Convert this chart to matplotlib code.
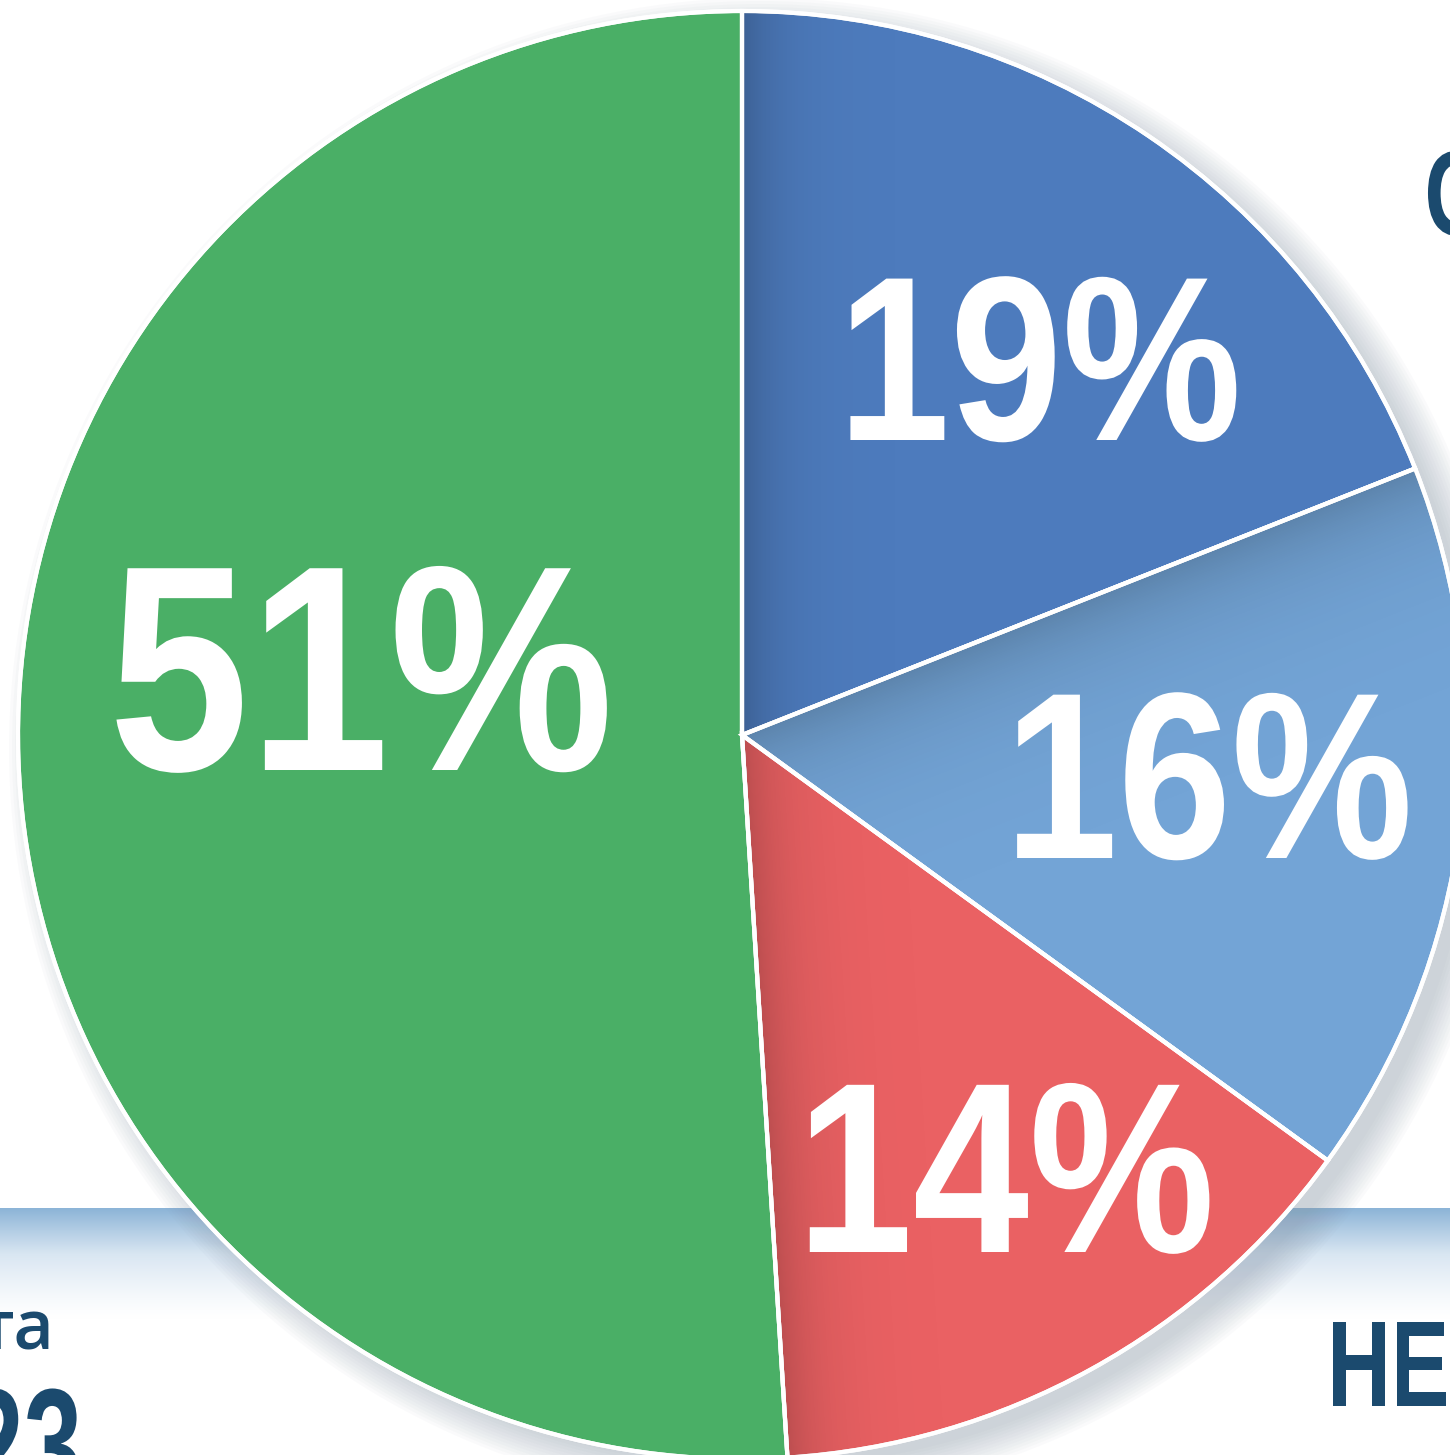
import numpy as np
import matplotlib
matplotlib.use('Agg')
import matplotlib.pyplot as plt
from matplotlib.colors import LinearSegmentedColormap
from matplotlib.patches import Circle
from matplotlib.patheffects import AbstractPathEffect
from matplotlib.transforms import Affine2D

# share of answers, clockwise from 12 o'clock
labels = ['19%', '16%', '14%', '51%']
values = [19, 16, 14, 51]
colors = ['#4d7bbd', '#73a4d6', '#ea6163', '#4aaf66']

# where each percentage sits (pixel x centre, baseline y from top) and its digit height
label_pos = [(1039, 440), (1208, 858), (1005, 1252), (361, 770)]
label_size = [168, 170, 174, 210]

W, H = 1450, 1455
cx, cy, R = 742, 735, 724
navy = '#1b4a6e'


class Squeeze(AbstractPathEffect):
    """Narrow the glyphs horizontally around the left, centre or right of the text."""
    def __init__(self, sx, anchor='center'):
        super().__init__()
        self.sx = sx
        self.anchor = anchor

    def draw_path(self, renderer, gc, tpath, affine, rgbFace=None):
        ext = tpath.transformed(affine).get_extents()
        x0 = {'left': ext.x0, 'right': ext.x1}.get(self.anchor, (ext.x0 + ext.x1) / 2)
        aff = affine + Affine2D().translate(-x0, 0).scale(self.sx, 1).translate(x0, 0)
        renderer.draw_path(gc, tpath, aff, rgbFace)


fig = plt.figure(figsize=(W / 100, H / 100), dpi=100)
ax = fig.add_axes([0, 0, 1, 1])

def fy(y):
    return H - y

# pale blue ribbon running behind the pie
band = LinearSegmentedColormap.from_list('band', ['#ffffff', '#d9e6f2', '#8cb4d7'])
grad = np.linspace(0, 1, 200).reshape(-1, 1) ** 1.3
ax.imshow(grad, cmap=band, aspect='auto', extent=[0, W, fy(1320), fy(1208)],
          origin='lower', zorder=0)

# soft shadow falling to the lower right of the pie
for k in range(12):
    ax.add_patch(Circle((cx + 18, fy(cy) - 14), R - 6 + k * 3, color='#8796a8',
                        alpha=0.04, lw=0, zorder=1))

wedges, _ = ax.pie(values, colors=colors, startangle=90, counterclock=False,
                   center=(cx, fy(cy)), radius=R, frame=True,
                   wedgeprops=dict(edgecolor='white', linewidth=3))
for w in wedges:
    w.set_zorder(2)

# darker fold along one edge of each of the smaller slices
xx, yy = np.meshgrid(np.arange(W) + 0.5, np.arange(H) + 0.5)
phi = np.arctan2(yy - fy(cy), xx - cx)
rr = np.hypot(xx - cx, yy - fy(cy))
folds = [(wedges[0], wedges[0].theta2, 0.22, 38),
         (wedges[1], wedges[1].theta2, 0.20, 55),
         (wedges[2], wedges[2].theta1, 0.20, 40)]
for w, th, a, width in folds:
    d = rr * np.abs(np.sin(phi - np.radians(th)))
    rgba = np.zeros((H, W, 4))
    rgba[..., 3] = a * np.exp(-d / width)
    im = ax.imshow(rgba, extent=[0, W, 0, H], origin='lower', zorder=2.5,
                   interpolation='bilinear')
    im.set_clip_path(w)

# white dividers drawn again above the shading
outlines, _ = ax.pie(values, colors=['none'] * len(values), startangle=90,
                     counterclock=False, center=(cx, fy(cy)), radius=R, frame=True,
                     wedgeprops=dict(edgecolor='white', linewidth=3))
for w in outlines:
    w.set_zorder(2.6)

ax.set_xlim(0, W)
ax.set_ylim(0, H)
ax.set_aspect('equal')
ax.axis('off')

# digit height in px -> font size in pt
for lab, (x, y), s in zip(labels, label_pos, label_size):
    ax.text(x, fy(y), lab, color='white', fontsize=s / 0.716 * 0.72, fontweight='bold',
            family='Liberation Sans', ha='center', va='baseline', zorder=3,
            path_effects=[Squeeze(0.86)])

# pieces of the surrounding headline text, cut by the edges
ax.text(1423, fy(235), 'С', color=navy, fontsize=87, fontweight='bold',
        family='Liberation Sans', ha='left', va='baseline', zorder=3,
        path_effects=[Squeeze(0.72, 'left')])
ax.text(-22, fy(1350), 'та', color=navy, fontsize=50,
        family='Open Sans', fontweight='semibold', ha='left', va='baseline', zorder=3)
ax.text(84, fy(1500), '2023', color=navy, fontsize=115, fontweight='bold',
        family='Liberation Sans', ha='right', va='baseline', zorder=3,
        path_effects=[Squeeze(0.66, 'right')])
ax.text(1325, fy(1406), 'НЕТ', color=navy, fontsize=88, fontweight='bold',
        family='Liberation Sans', ha='left', va='baseline', zorder=3,
        path_effects=[Squeeze(0.72, 'left')])

fig.savefig('out.png', dpi=100)
